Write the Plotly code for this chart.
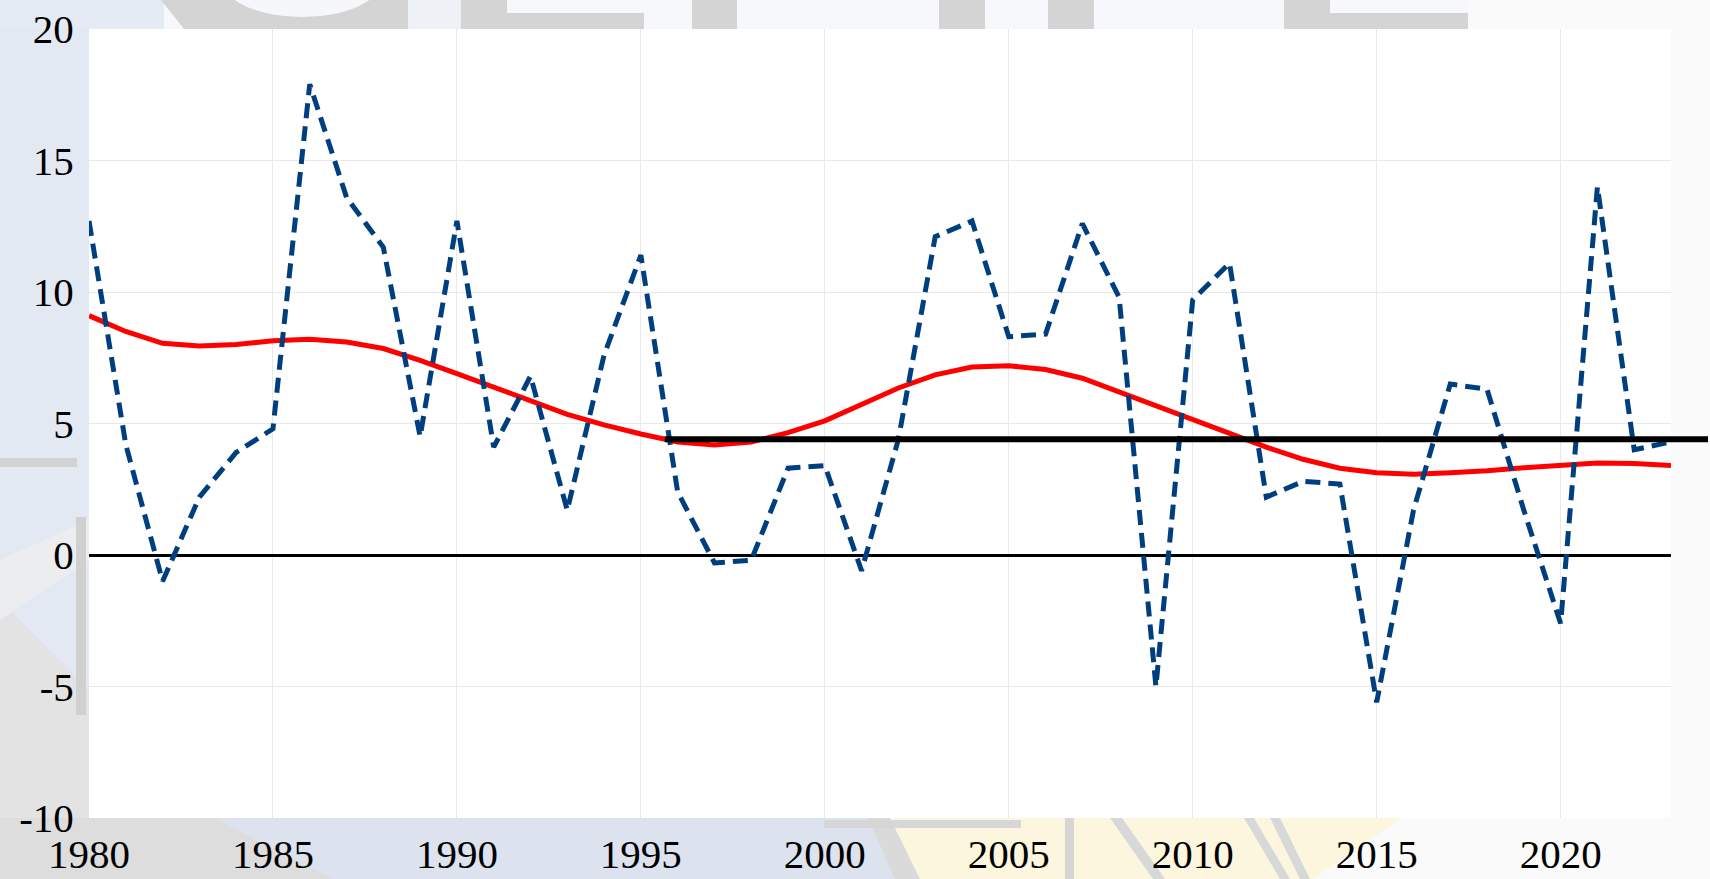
import plotly.graph_objects as go

# ---------------- data ----------------
years = list(range(1980, 2024))
growth = [12.7, 4.2, -1.0, 2.2, 3.9, 4.8, 17.9, 13.6, 11.7, 4.5,
          12.7, 4.1, 6.8, 1.7, 7.6, 11.4, 2.4, -0.3, -0.2, 3.3,
          3.4, -0.6, 4.4, 12.1, 12.7, 8.3, 8.4, 12.6, 9.8, -5.0,
          9.7, 11.1, 2.2, 2.8, 2.7, -5.6, 1.7, 6.5, 6.3, 1.7,
          -2.6, 14.0, 4.0, 4.3]
trend = [9.1, 8.5, 8.05, 7.95, 8.0, 8.15, 8.2, 8.1, 7.85, 7.4,
         6.9, 6.4, 5.85, 5.35, 4.95, 4.6, 4.3, 4.18, 4.3, 4.65,
         5.1, 5.75, 6.35, 6.85, 7.15, 7.2, 7.05, 6.72, 6.2, 5.68,
         5.18, 4.65, 4.1, 3.64, 3.3, 3.13, 3.07, 3.13, 3.2, 3.32,
         3.42, 3.5, 3.48, 3.4]
avg_level = 4.4
avg_start_year = 1995.65

x_range = [1980, 2023]
y_range = [-10, 20]
x_ticks = [1980, 1985, 1990, 1995, 2000, 2005, 2010, 2015, 2020]
y_ticks = [-10, -5, 0, 5, 10, 15, 20]
y_ticktext = [str(v) for v in y_ticks]

# ---------------- layout geometry ----------------
W, H = 1710, 879
L, R, T, B = 89, 1671, 29, 818  # plot box in pixels


def px(x):
    return (x - L) / (R - L)


def py(y):
    return (B - y) / (B - T)


def rect(x0, y0, x1, y1, color):
    return dict(type="rect", xref="paper", yref="paper", layer="below",
                x0=px(x0), x1=px(x1), y0=py(y1), y1=py(y0),
                fillcolor=color, line=dict(width=0))


def poly(points, color):
    d = "M " + " L ".join(f"{px(a):.5f},{py(b):.5f}" for a, b in points) + " Z"
    return dict(type="path", xref="paper", yref="paper", layer="below",
                path=d, fillcolor=color, line=dict(width=0))


GRAY = "#D4D4D4"
shapes = [
    # left margin
    rect(0, 0, L, H, "#E3E9F3"),
    rect(0, 458, L - 12, 467, "#D2D2D2"),
    poly([(0, 600), (L, 690), (L, H), (0, H)], "#E3E3E3"),
    poly([(0, 560), (L, 520), (L, 560), (0, 620)], "#ECEDEF"),
    rect(76, 517, 86, 715, "#D0D0D0"),
    # top margin
    rect(0, 0, 164, T, "#E5EBF4"),
    poly([(161, 0), (408, 0), (408, T), (184, T)], GRAY),
    dict(type="circle", xref="paper", yref="paper", layer="below",
         x0=px(222), x1=px(382), y0=py(17), y1=py(-57),
         fillcolor="#F5F7FA", line=dict(width=0)),
    rect(408, 0, 461, T, "#EEF1F6"),
    rect(461, 0, 507, T, GRAY),
    rect(507, 13, 644, T, GRAY),
    rect(692, 0, 737, T, GRAY),
    rect(939, 0, 985, T, GRAY),
    rect(1048, 0, 1094, T, GRAY),
    rect(1284, 0, 1330, T, GRAY),
    rect(1330, 13, 1468, T, GRAY),
    rect(1468, 0, W, T, "#FAFAFA"),
    # right margin
    rect(R, 0, W, H, "#FAFAFA"),
    # bottom margin
    rect(0, B, W, H, "#FAFAFA"),
    poly([(0, B), (1401, B), (1313, H), (0, H)], "#FBF6DD"),
    poly([(0, B), (880, B), (905, H), (0, H)], "#DCE3EF"),
    poly([(0, B), (214, B), (333, H), (0, H)], "#DDDDDD"),
    poly([(868, B), (890, B), (920, H), (895, H)], "#DADADA"),
    rect(824, 820, 1021, 828, "#D6D6D6"),
    rect(1065, B, 1074, H, "#D6D6D6"),
    poly([(1110, B), (1122, B), (1165, H), (1153, H)], "#D8D8D8"),
    poly([(1244, B), (1254, B), (1290, H), (1280, H)], "#D8D8D8"),
    poly([(1270, B), (1280, B), (1310, H), (1300, H)], "#D8D8D8"),
]

# thick black average line, extending past the plot edge
shapes.append(dict(type="line", xref="paper", yref="y", layer="above",
                   x0=(avg_start_year - x_range[0]) / (x_range[1] - x_range[0]),
                   x1=px(W - 2), y0=avg_level, y1=avg_level,
                   line=dict(color="black", width=6)))

fig = go.Figure()
fig.add_trace(go.Scatter(x=years, y=trend, mode="lines",
                         line=dict(color="#FF0000", width=5),
                         showlegend=False, hoverinfo="skip"))
fig.add_trace(go.Scatter(x=years, y=growth, mode="lines",
                         line=dict(color="#003F7F", width=5, dash="15px,8px"),
                         showlegend=False, hoverinfo="skip"))

font = dict(family="Liberation Serif", size=41, color="black")

fig.update_layout(
    width=W, height=H, autosize=False,
    margin=dict(l=L, r=W - R, t=T, b=H - B, pad=0),
    paper_bgcolor="#F6F8FB", plot_bgcolor="white",
    font=font, shapes=shapes, showlegend=False,
)
fig.update_xaxes(range=x_range, tickvals=x_ticks, showgrid=True, automargin=False,
                 gridcolor="#E9E9E9", gridwidth=1, zeroline=False, showline=False,
                 ticks="", ticklabelstandoff=8, tickfont=font)
fig.update_yaxes(range=y_range, tickvals=y_ticks, ticktext=y_ticktext, automargin=False,
                 showgrid=True, gridcolor="#E9E9E9", gridwidth=1,
                 zeroline=True, zerolinecolor="black", zerolinewidth=3,
                 showline=False, ticks="outside", ticklen=6,
                 tickcolor="rgba(0,0,0,0)", tickfont=font)

fig.write_html("out.html",
               config={"displayModeBar": False},
               post_script="document.body.style.margin='0';"
                           "document.body.style.overflow='hidden';")
